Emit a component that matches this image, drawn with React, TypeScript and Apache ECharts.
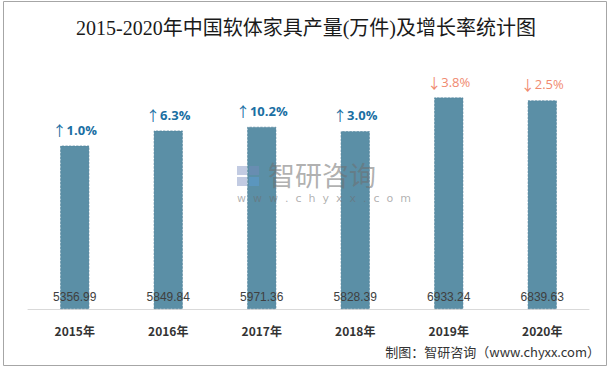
import React, { useEffect, useRef } from "react";
import * as echarts from "echarts";

const categories = ["2015年", "2016年", "2017年", "2018年", "2019年", "2020年"];
const production = [5356.99, 5849.84, 5971.36, 5828.39, 6933.24, 6839.63];
const growth = [1.0, 6.3, 10.2, 3.0, -3.8, -2.5];

export default function App() {
  const ref = useRef<HTMLDivElement>(null);
  useEffect(() => {
    if (!ref.current) return;
    const chart = echarts.init(ref.current, null, { renderer: "svg" });
    chart.setOption({
      animation: false,
      backgroundColor: "#ffffff",
      title: {
        text: "2015-2020年中国软体家具产量(万件)及增长率统计图",
        left: "center",
        top: 13,
        textStyle: {
          fontFamily: "'Liberation Serif', 'Noto Sans CJK SC', serif",
          fontSize: 20,
          fontWeight: "normal",
          color: "#1a1a1a",
        },
      },
      grid: { left: 28, right: 23, top: 65, bottom: 59 },
      xAxis: {
        type: "category",
        data: categories,
        axisLine: { lineStyle: { color: "#d9d9d9" } },
        axisTick: { show: false },
        axisLabel: {
          margin: 15,
          fontSize: 12,
          fontWeight: "bold",
          color: "#333333",
          fontFamily: "'Noto Sans CJK SC', sans-serif",
        },
      },
      yAxis: {
        type: "value",
        min: 0,
        max: 8000,
        show: false,
        splitLine: { show: false },
      },
      graphic: [
        {
          type: "rect",
          shape: { x: 3.5, y: 1.5, width: 603, height: 364 },
          style: { fill: "none", stroke: "#a6a6a6", lineWidth: 1 },
          z: 100,
        },
        {
          type: "text",
          right: 12,
          top: 345,
          style: {
            text: "制图：智研咨询（www.chyxx.com）",
            fontSize: 13,
            fill: "#333333",
            fontFamily: "'Noto Sans CJK SC', sans-serif",
          },
        },
        {
          type: "group",
          left: 237,
          top: 161,
          z: 50,
          children: [
            { type: "rect", z: 50, shape: { x: 0, y: 0, width: 10, height: 9 }, style: { fill: "rgba(120,140,190,0.45)" } },
            { type: "rect", z: 50, shape: { x: 12, y: 0, width: 10, height: 9 }, style: { fill: "rgba(120,140,190,0.45)" } },
            { type: "rect", z: 50, shape: { x: 0, y: 11, width: 10, height: 9 }, style: { fill: "rgba(120,140,190,0.45)" } },
            { type: "rect", z: 50, shape: { x: 12, y: 11, width: 10, height: 9 }, style: { fill: "rgba(90,160,220,0.45)" } },
            {
              type: "text",
              z: 50,
              x: 31,
              y: -5,
              style: {
                text: "智研咨询",
                fontSize: 27,
                fill: "rgba(110,110,110,0.55)",
                fontFamily: "'Noto Sans CJK SC', sans-serif",
              },
            },
            {
              type: "text",
              z: 50,
              x: 0,
              y: 27,
              style: {
                text: "w  w  w  .  c  h  y  x  x  .  c  o  m",
                fontSize: 11,
                fill: "rgba(110,110,110,0.55)",
                fontFamily: "'DejaVu Sans', sans-serif",
              },
            },
          ],
        },
      ],
      series: [
        {
          type: "bar",
          data: production,
          barWidth: 29,
          itemStyle: {
            color: "#5b8fa6",
            borderColor: "#4d8098",
            borderType: "dashed",
            borderWidth: 0.6,
          },
          label: {
            show: true,
            position: "insideBottom",
            distance: 6,
            fontSize: 12,
            color: "#404040",
            fontFamily: "'Liberation Sans', sans-serif",
            formatter: (p: any) => p.value.toFixed(2),
          },
          z: 2,
        },
        {
          type: "bar",
          data: production,
          barWidth: 29,
          barGap: "-100%",
          itemStyle: { color: "transparent" },
          label: {
            show: true,
            position: "top",
            distance: 9,
            formatter: (p: any) => {
              const g = growth[p.dataIndex];
              return g >= 0
                ? `{ua|↑}{up|${g.toFixed(1)}%}`
                : `{da|↓}{down|${Math.abs(g).toFixed(1)}%}`;
            },
            rich: {
              ua: {
                color: "#1a6fa3",
                fontSize: 14,
                fontFamily: "'Noto Sans CJK SC', sans-serif",
              },
              up: {
                color: "#1a6fa3",
                fontSize: 13,
                fontWeight: "bold",
                fontFamily: "'Open Sans', sans-serif",
              },
              da: {
                color: "#f08a70",
                fontSize: 14,
                fontFamily: "'Noto Sans CJK SC', sans-serif",
              },
              down: {
                color: "#f08a70",
                fontSize: 13,
                fontFamily: "'Open Sans', sans-serif",
              },
            },
          },
          z: 3,
        },
      ],
    });
    return () => chart.dispose();
  }, []);
  return (
    <div
      ref={ref}
      style={{ position: "fixed", left: 0, top: 0, width: 612, height: 368 }}
    />
  );
}
